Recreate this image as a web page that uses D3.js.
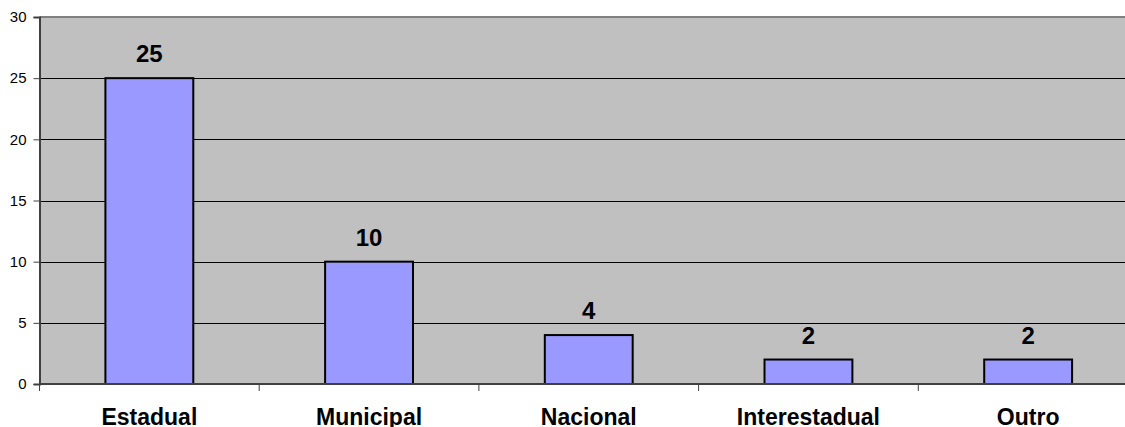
<!DOCTYPE html>
<html lang="en">
  <head>
    <meta charset="UTF-8" />
    <title>Chart</title>
    <style>
      body { margin: 0; background: #fff; }
      text { font-family: "Liberation Sans", Arial, sans-serif; }
    </style>
  </head>
  <body>
    <svg id="chart" width="1125" height="427"></svg>

    <script src="https://d3js.org/d3.v7.min.js"></script>
    <script>
      const categories = ["Estadual", "Municipal", "Nacional", "Interestadual", "Outro"];
      const values = [25, 10, 4, 2, 2];
      const yTicks = [0, 5, 10, 15, 20, 25, 30];

      const svg = d3.select("#chart");
      const plotLeft = 39.5, plotTop = 17, plotRight = 1138, plotBottom = 384;

      const x = d3.scaleBand().domain(categories).range([plotLeft, plotRight]);
      const y = d3.scaleLinear().domain([0, 30]).range([plotBottom, plotTop]);

      // plot background
      svg.append("rect")
        .attr("x", plotLeft).attr("y", plotTop)
        .attr("width", plotRight - plotLeft).attr("height", plotBottom - plotTop)
        .attr("fill", "#c0c0c0");

      // gridlines
      svg.selectAll("line.grid")
        .data(yTicks.filter(d => d > 0 && d < 30))
        .enter()
        .append("line")
        .attr("x1", plotLeft).attr("x2", plotRight)
        .attr("y1", d => Math.round(y(d)) + 0.5)
        .attr("y2", d => Math.round(y(d)) + 0.5)
        .attr("stroke", "#000")
        .attr("stroke-width", 1);

      // top border
      svg.append("line")
        .attr("x1", plotLeft).attr("x2", plotRight)
        .attr("y1", plotTop).attr("y2", plotTop)
        .attr("stroke", "#808080").attr("stroke-width", 2);

      // bars
      const barW = x.bandwidth() * 0.4;
      svg.selectAll("rect.bar")
        .data(values)
        .enter()
        .append("rect")
        .attr("x", (d, i) => x(categories[i]) + (x.bandwidth() - barW) / 2)
        .attr("y", d => y(d))
        .attr("width", barW)
        .attr("height", d => plotBottom - y(d))
        .attr("fill", "#9999ff")
        .attr("stroke", "#000")
        .attr("stroke-width", 2);

      // value labels
      svg.selectAll("text.val")
        .data(values)
        .enter()
        .append("text")
        .attr("x", (d, i) => x(categories[i]) + x.bandwidth() / 2)
        .attr("y", d => y(d) - 16)
        .attr("text-anchor", "middle")
        .attr("font-size", 24)
        .attr("font-weight", "bold")
        .text(d => d);

      // y axis
      const yAxis = svg.append("g")
        .attr("transform", `translate(${plotLeft},0)`)
        .call(d3.axisLeft(y).tickValues(yTicks).tickSize(6).tickPadding(7));
      yAxis.select(".domain").attr("stroke", "#404040").attr("stroke-width", 2);
      yAxis.selectAll(".tick line").attr("stroke", "#404040");
      yAxis.selectAll(".tick text")
        .attr("font-size", 15)
        .attr("font-family", "Liberation Sans, Arial, sans-serif")
        .attr("fill", "#000");

      // x axis
      const xAxis = svg.append("g")
        .attr("transform", `translate(0,${plotBottom})`);
      xAxis.append("line")
        .attr("x1", plotLeft).attr("x2", plotRight)
        .attr("y1", 0).attr("y2", 0)
        .attr("stroke", "#404040").attr("stroke-width", 2);
      const xTicks = categories.map(c => x(c)).concat([plotRight]);
      xAxis.selectAll("line.xt")
        .data(xTicks)
        .enter()
        .append("line")
        .attr("x1", d => d).attr("x2", d => d)
        .attr("y1", 0).attr("y2", 7)
        .attr("stroke", "#404040");
      xAxis.selectAll("text.cat")
        .data(categories)
        .enter()
        .append("text")
        .attr("x", d => x(d) + x.bandwidth() / 2)
        .attr("y", 40.5)
        .attr("text-anchor", "middle")
        .attr("font-size", 23)
        .attr("font-weight", "bold")
        .text(d => d);
    </script>
  </body>
</html>
